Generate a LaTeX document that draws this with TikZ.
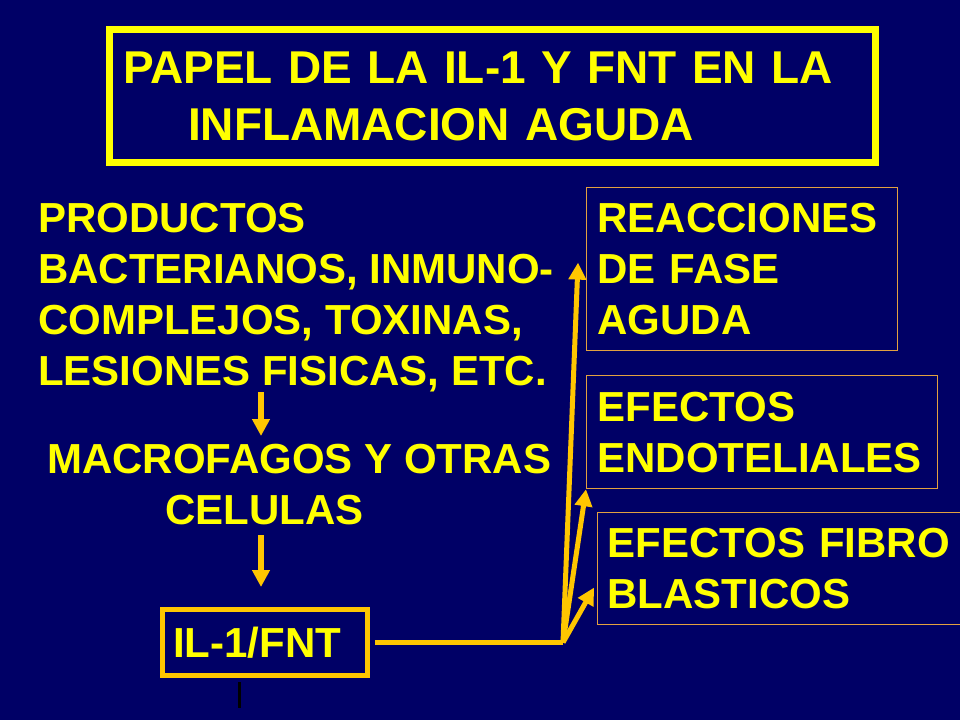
\documentclass[tikz,border=0pt]{standalone}
\usepackage{fontspec}
\setmainfont{Liberation Sans}
\usetikzlibrary{arrows.meta}
\definecolor{fondo}{RGB}{0,0,102}
\definecolor{amarillo}{RGB}{255,255,0}
\definecolor{oro}{RGB}{255,198,0}
\definecolor{borde}{RGB}{226,160,64}
\tikzset{
  texto/.style={text=amarillo, font=\bfseries\fontsize{42}{51}\selectfont, align=left, inner sep=0pt, anchor=north west},
  caja/.style={draw=borde, line width=1.2pt, text=amarillo, font=\bfseries\fontsize{42}{51}\selectfont, align=left, inner ysep=0pt, anchor=north west},
  flecha/.style={draw=oro, line width=5pt, -{Triangle[length=17pt,width=17pt]}},
}
\begin{document}
\begin{tikzpicture}[x=1pt,y=-1pt]
	\fill[fondo] (0,0) rectangle (960,720);
	\useasboundingbox (0,0) rectangle (960,720);

	\node[draw=amarillo, line width=7pt, text=amarillo, font=\bfseries\fontsize{46}{57}\selectfont, align=left, anchor=north west, inner xsep=13.5pt, inner ysep=0pt, text width=739pt, minimum height=133pt] (titulo) at (106,26) {PAPEL DE LA IL-1 Y FNT EN LA\\\hspace*{65pt}INFLAMACION AGUDA};

	\node[texto] (prod) at (38,203) {PRODUCTOS\\BACTERIANOS, INMUNO-\\COMPLEJOS, TOXINAS,\\LESIONES FISICAS, ETC.};
	\node[texto] (macro) at (47,444) {MACROFAGOS Y OTRAS\\\hspace*{118pt}CELULAS};
	\node[caja, draw=oro, line width=5pt, inner xsep=10.5pt, text width=184pt, minimum height=66pt] (il) at (160,607) {IL-1/FNT};

	\node[caja, inner xsep=11pt, text width=289pt, minimum height=163pt] (reac) at (586,187) {REACCIONES\\DE FASE\\AGUDA};
	\node[caja, inner xsep=11pt, text width=329pt, minimum height=113pt] (endo) at (586,375) {EFECTOS\\ENDOTELIALES};
	\node[caja, inner xsep=10pt, text width=360pt, minimum height=112pt] (fibro) at (597,512) {EFECTOS FIBRO\\BLASTICOS};

	\coordinate (eje) at (261,0);
	\draw[flecha, line width=6pt, shorten >=8pt] (prod.south -| eje) -- (macro.north -| eje);
	\draw[flecha, line width=6pt, shorten <=10pt, shorten >=20pt] (macro.south -| eje) -- (il.north -| eje);

	\coordinate (nudo) at (il.east -| 563,0);
	\coordinate (pReac) at ([xshift=-8pt,yshift=6.5pt]reac.west);
	\coordinate (pFibro) at ([xshift=-3pt,yshift=-19pt]fibro.west);
	\draw[oro, line width=5pt, shorten <=5pt] (il.east) -- (nudo);
	\draw[flecha] (nudo) -- (pReac);
	\draw[flecha] (nudo) -- (endo.south west);
	\draw[flecha] (nudo) -- (pFibro);

	\draw[black, line width=3pt] ([xshift=-26pt,yshift=-4pt]il.south) -- ++(0,26);
\end{tikzpicture}
\end{document}
